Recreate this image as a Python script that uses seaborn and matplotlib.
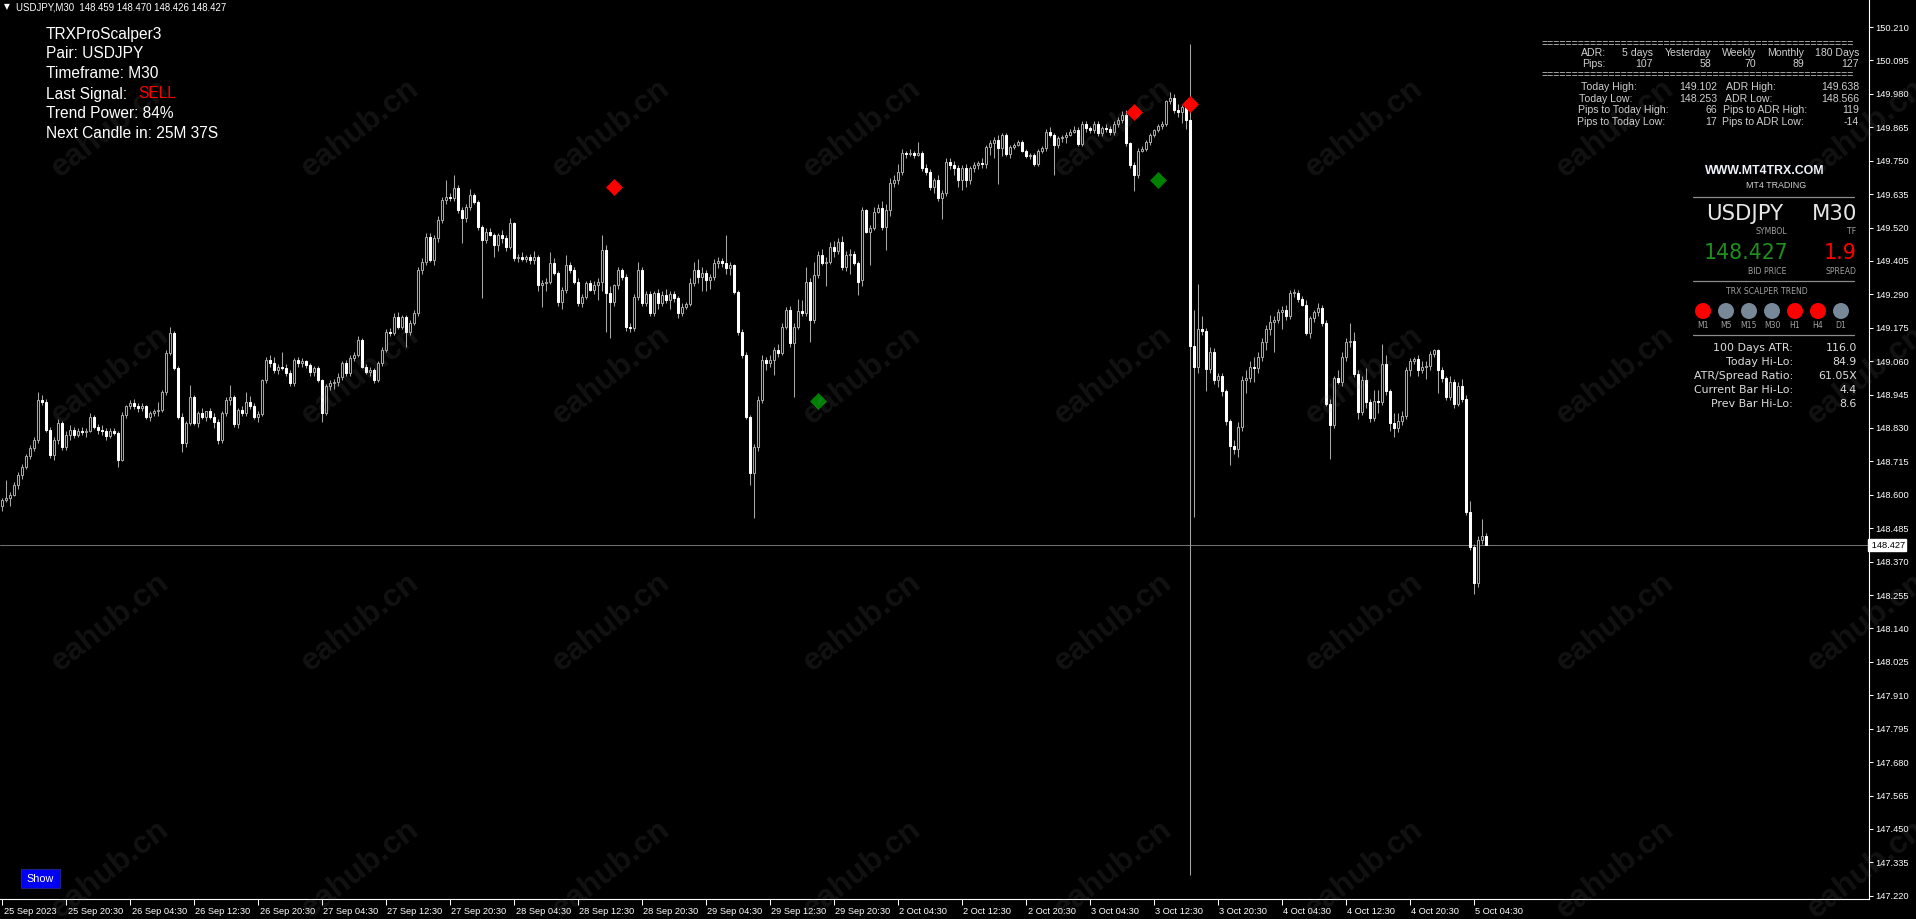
import numpy as np
import pandas as pd
import matplotlib.pyplot as plt
import matplotlib.transforms as mtransforms
from matplotlib.patches import Rectangle, Circle
import seaborn as sns

# ---------------- data (USDJPY M30, 25 Sep 2023 12:30 -> 5 Oct 2023) ----------------
opens = [
    148.560, 148.583, 148.588, 148.600, 148.634, 148.669, 148.697, 148.732, 148.761, 148.789,
    148.927, 148.921, 148.824, 148.737, 148.789, 148.846, 148.766, 148.806, 148.824, 148.806,
    148.821, 148.815, 148.820, 148.869, 148.835, 148.824, 148.818, 148.801, 148.818, 148.814,
    148.720, 148.875, 148.904, 148.915, 148.904, 148.898, 148.904, 148.869, 148.881, 148.887,
    148.892, 148.955, 149.087, 149.158, 149.036, 148.869, 148.778, 148.846, 148.938, 148.846,
    148.881, 148.869, 148.887, 148.869, 148.852, 148.789, 148.881, 148.927, 148.935, 148.844,
    148.892, 148.880, 148.921, 148.904, 148.869, 148.878, 148.996, 149.064, 149.053, 149.030,
    149.041, 149.036, 149.019, 148.984, 149.064, 149.053, 149.059, 149.047, 149.024, 149.036,
    148.996, 148.881, 148.973, 148.984, 148.990, 149.007, 149.053, 149.019, 149.070, 149.082,
    149.133, 149.041, 149.024, 149.030, 148.996, 149.053, 149.099, 149.162, 149.156, 149.213,
    149.179, 149.213, 149.162, 149.191, 149.225, 149.374, 149.403, 149.489, 149.408, 149.483,
    149.546, 149.615, 149.626, 149.621, 149.655, 149.580, 149.552, 149.592, 149.632, 149.609,
    149.523, 149.477, 149.506, 149.495, 149.460, 149.495, 149.483, 149.454, 149.534, 149.414,
    149.420, 149.410, 149.417, 149.408, 149.420, 149.322, 149.328, 149.334, 149.397, 149.362,
    149.265, 149.305, 149.391, 149.374, 149.334, 149.259, 149.282, 149.328, 149.305, 149.322,
    149.334, 149.443, 149.294, 149.265, 149.322, 149.374, 149.351, 149.179, 149.173, 149.282,
    149.374, 149.259, 149.290, 149.225, 149.294, 149.259, 149.288, 149.271, 149.290, 149.276,
    149.225, 149.248, 149.256, 149.328, 149.374, 149.351, 149.365, 149.340, 149.351, 149.397,
    149.405, 149.397, 149.380, 149.391, 149.299, 149.162, 149.081, 148.869, 148.674, 148.766,
    148.927, 149.064, 149.053, 149.064, 149.099, 149.087, 149.179, 149.236, 149.122, 149.179,
    149.231, 149.225, 149.334, 149.202, 149.357, 149.425, 149.397, 149.403, 149.454, 149.440,
    149.471, 149.385, 149.425, 149.429, 149.397, 149.340, 149.580, 149.506, 149.520, 149.575,
    149.586, 149.523, 149.580, 149.672, 149.684, 149.712, 149.775, 149.773, 149.778, 149.770,
    149.775, 149.724, 149.712, 149.661, 149.684, 149.620, 149.638, 149.747, 149.735, 149.724,
    149.684, 149.724, 149.684, 149.724, 149.735, 149.741, 149.738, 149.798, 149.810, 149.820,
    149.792, 149.837, 149.772, 149.798, 149.805, 149.814, 149.785, 149.766, 149.769, 149.740,
    149.785, 149.792, 149.850, 149.840, 149.805, 149.827, 149.831, 149.840, 149.850, 149.857,
    149.809, 149.876, 149.863, 149.855, 149.876, 149.844, 149.863, 149.860, 149.848, 149.876,
    149.889, 149.908, 149.811, 149.734, 149.701, 149.785, 149.790, 149.814, 149.837, 149.857,
    149.869, 149.876, 149.954, 149.967, 149.925, 149.917, 149.934, 149.889, 149.112, 149.041,
    149.170, 149.164, 149.034, 149.093, 148.996, 149.009, 148.957, 148.853, 148.769, 148.756,
    148.834, 148.996, 149.002, 149.041, 149.036, 149.073, 149.125, 149.170, 149.196, 149.203,
    149.229, 149.235, 149.216, 149.293, 149.296, 149.274, 149.255, 149.157, 149.209, 149.229,
    149.244, 149.190, 148.912, 148.840, 149.002, 148.989, 149.073, 149.125, 149.131, 149.015,
    148.886, 148.996, 148.918, 148.866, 148.924, 148.920, 149.050, 148.957, 148.847, 148.830,
    148.853, 148.873, 149.028, 149.060, 149.067, 149.028, 149.041, 149.043, 149.086, 149.099,
    149.028, 149.002, 148.937, 148.989, 148.912, 148.976, 148.931, 148.542, 148.419, 148.297,
    148.445, 148.459,
]
highs = [
    148.590, 148.651, 148.610, 148.645, 148.680, 148.705, 148.740, 148.770, 148.800, 148.953,
    148.945, 148.930, 148.835, 148.800, 148.860, 148.855, 148.820, 148.840, 148.835, 148.830,
    148.835, 148.830, 148.881, 148.875, 148.845, 148.840, 148.830, 148.830, 148.830, 148.820,
    148.885, 148.910, 148.925, 148.930, 148.915, 148.915, 148.910, 148.890, 148.895, 148.921,
    148.960, 149.100, 149.177, 149.165, 149.045, 148.880, 148.855, 148.978, 148.945, 148.890,
    148.900, 148.890, 148.900, 148.880, 148.860, 148.890, 148.935, 148.978, 148.945, 148.900,
    148.905, 148.955, 148.940, 148.915, 148.890, 149.000, 149.075, 149.080, 149.075, 149.050,
    149.091, 149.050, 149.030, 149.070, 149.075, 149.070, 149.065, 149.055, 149.045, 149.045,
    149.000, 148.980, 148.995, 149.000, 149.020, 149.060, 149.065, 149.080, 149.090, 149.145,
    149.140, 149.050, 149.040, 149.035, 149.060, 149.110, 149.170, 149.175, 149.225, 149.230,
    149.220, 149.220, 149.200, 149.235, 149.385, 149.415, 149.500, 149.500, 149.495, 149.560,
    149.625, 149.684, 149.640, 149.701, 149.665, 149.590, 149.600, 149.652, 149.640, 149.615,
    149.530, 149.520, 149.520, 149.500, 149.500, 149.510, 149.495, 149.552, 149.540, 149.430,
    149.435, 149.425, 149.430, 149.440, 149.425, 149.340, 149.345, 149.437, 149.415, 149.370,
    149.315, 149.425, 149.400, 149.385, 149.345, 149.290, 149.335, 149.340, 149.335, 149.345,
    149.494, 149.460, 149.320, 149.325, 149.385, 149.380, 149.360, 149.190, 149.290, 149.400,
    149.385, 149.300, 149.300, 149.300, 149.310, 149.300, 149.310, 149.300, 149.300, 149.285,
    149.260, 149.265, 149.345, 149.400, 149.410, 149.385, 149.375, 149.360, 149.410, 149.420,
    149.415, 149.494, 149.400, 149.395, 149.305, 149.170, 149.090, 148.875, 148.775, 148.940,
    149.080, 149.075, 149.080, 149.110, 149.120, 149.190, 149.245, 149.250, 149.190, 149.275,
    149.270, 149.385, 149.345, 149.400, 149.440, 149.445, 149.420, 149.470, 149.475, 149.485,
    149.490, 149.440, 149.445, 149.440, 149.405, 149.590, 149.585, 149.530, 149.590, 149.600,
    149.610, 149.600, 149.690, 149.700, 149.740, 149.790, 149.785, 149.790, 149.785, 149.813,
    149.785, 149.740, 149.720, 149.690, 149.700, 149.650, 149.760, 149.760, 149.750, 149.735,
    149.735, 149.740, 149.730, 149.745, 149.750, 149.760, 149.805, 149.820, 149.830, 149.840,
    149.845, 149.845, 149.805, 149.810, 149.820, 149.820, 149.790, 149.775, 149.775, 149.790,
    149.800, 149.860, 149.865, 149.845, 149.835, 149.840, 149.850, 149.860, 149.870, 149.865,
    149.885, 149.885, 149.870, 149.885, 149.885, 149.870, 149.875, 149.870, 149.885, 149.900,
    149.920, 149.925, 149.815, 149.745, 149.795, 149.800, 149.820, 149.845, 149.860, 149.875,
    149.885, 149.960, 149.985, 149.980, 149.945, 149.940, 149.960, 150.150, 149.235, 149.326,
    149.216, 149.175, 149.110, 149.105, 149.020, 149.020, 148.965, 148.860, 148.790, 148.850,
    149.010, 149.030, 149.060, 149.075, 149.090, 149.140, 149.185, 149.220, 149.215, 149.240,
    149.250, 149.255, 149.305, 149.310, 149.305, 149.285, 149.270, 149.215, 149.235, 149.260,
    149.255, 149.200, 148.930, 149.010, 149.030, 149.090, 149.140, 149.190, 149.160, 149.030,
    149.010, 149.035, 148.930, 148.960, 148.960, 149.120, 149.080, 148.965, 148.880, 148.880,
    148.890, 149.040, 149.070, 149.075, 149.080, 149.060, 149.060, 149.095, 149.102, 149.102,
    149.040, 149.010, 149.010, 149.000, 148.990, 149.000, 148.945, 148.580, 148.430, 148.460,
    148.517, 148.470,
]
lows = [
    148.543, 148.575, 148.560, 148.595, 148.620, 148.655, 148.690, 148.725, 148.750, 148.780,
    148.910, 148.815, 148.726, 148.720, 148.775, 148.755, 148.755, 148.790, 148.795, 148.800,
    148.805, 148.800, 148.815, 148.825, 148.810, 148.805, 148.790, 148.795, 148.805, 148.697,
    148.715, 148.865, 148.895, 148.895, 148.885, 148.890, 148.860, 148.855, 148.870, 148.870,
    148.885, 148.945, 149.080, 149.030, 148.860, 148.749, 148.765, 148.840, 148.840, 148.835,
    148.860, 148.855, 148.860, 148.830, 148.775, 148.780, 148.870, 148.910, 148.835, 148.830,
    148.870, 148.870, 148.895, 148.860, 148.850, 148.870, 148.985, 149.040, 149.020, 149.015,
    149.030, 149.010, 148.975, 148.975, 149.040, 149.040, 149.035, 149.010, 149.010, 148.990,
    148.852, 148.875, 148.960, 148.965, 148.975, 148.995, 149.010, 149.010, 149.060, 149.075,
    149.035, 149.015, 149.010, 148.984, 148.990, 149.045, 149.090, 149.145, 149.150, 149.170,
    149.170, 149.110, 149.150, 149.185, 149.215, 149.360, 149.390, 149.400, 149.390, 149.470,
    149.535, 149.600, 149.610, 149.610, 149.570, 149.466, 149.540, 149.580, 149.600, 149.510,
    149.277, 149.465, 149.490, 149.420, 149.440, 149.465, 149.440, 149.445, 149.405, 149.400,
    149.405, 149.400, 149.395, 149.395, 149.300, 149.248, 149.300, 149.325, 149.355, 149.250,
    149.240, 149.295, 149.365, 149.325, 149.250, 149.245, 149.275, 149.300, 149.290, 149.270,
    149.300, 149.162, 149.139, 149.250, 149.310, 149.340, 149.165, 149.160, 149.165, 149.270,
    149.250, 149.250, 149.215, 149.215, 149.240, 149.250, 149.260, 149.240, 149.265, 149.210,
    149.215, 149.240, 149.250, 149.320, 149.330, 149.300, 149.300, 149.310, 149.340, 149.380,
    149.385, 149.360, 149.355, 149.290, 149.150, 149.070, 148.860, 148.634, 148.519, 148.750,
    148.915, 149.030, 149.040, 149.012, 149.075, 149.080, 149.170, 149.110, 148.938, 149.170,
    149.215, 149.215, 149.127, 149.190, 149.345, 149.390, 149.320, 149.395, 149.420, 149.430,
    149.375, 149.370, 149.360, 149.390, 149.288, 149.320, 149.500, 149.391, 149.510, 149.570,
    149.510, 149.443, 149.560, 149.660, 149.670, 149.700, 149.760, 149.765, 149.760, 149.765,
    149.715, 149.700, 149.650, 149.640, 149.610, 149.548, 149.630, 149.720, 149.700, 149.660,
    149.650, 149.660, 149.670, 149.710, 149.720, 149.725, 149.725, 149.770, 149.760, 149.669,
    149.765, 149.765, 149.760, 149.790, 149.800, 149.780, 149.760, 149.755, 149.730, 149.730,
    149.775, 149.785, 149.830, 149.701, 149.795, 149.815, 149.810, 149.835, 149.845, 149.800,
    149.800, 149.850, 149.845, 149.845, 149.835, 149.835, 149.850, 149.840, 149.840, 149.865,
    149.880, 149.800, 149.725, 149.646, 149.690, 149.780, 149.785, 149.805, 149.830, 149.850,
    149.860, 149.870, 149.945, 149.915, 149.900, 149.880, 149.860, 147.290, 148.523, 149.020,
    149.150, 148.957, 149.020, 148.980, 148.970, 148.940, 148.840, 148.704, 148.740, 148.730,
    148.820, 148.950, 148.990, 148.990, 149.020, 149.060, 149.100, 149.150, 149.090, 149.190,
    149.170, 149.200, 149.205, 149.280, 149.265, 149.250, 149.150, 149.140, 149.195, 149.215,
    149.180, 148.905, 148.724, 148.830, 148.980, 148.975, 149.060, 149.110, 149.005, 148.860,
    148.875, 148.900, 148.850, 148.855, 148.880, 148.910, 148.945, 148.820, 148.800, 148.815,
    148.840, 148.860, 149.010, 149.050, 149.010, 149.020, 149.000, 149.030, 149.075, 148.950,
    148.990, 148.925, 148.925, 148.900, 148.905, 148.920, 148.530, 148.410, 148.258, 148.284,
    148.430, 148.426,
]
closes = [
    148.583, 148.588, 148.600, 148.634, 148.669, 148.697, 148.732, 148.761, 148.789, 148.927,
    148.921, 148.824, 148.737, 148.789, 148.846, 148.766, 148.806, 148.824, 148.806, 148.821,
    148.815, 148.820, 148.869, 148.835, 148.824, 148.818, 148.801, 148.818, 148.814, 148.720,
    148.875, 148.904, 148.915, 148.904, 148.898, 148.904, 148.869, 148.881, 148.887, 148.892,
    148.955, 149.087, 149.158, 149.036, 148.869, 148.778, 148.846, 148.938, 148.846, 148.881,
    148.869, 148.887, 148.869, 148.852, 148.789, 148.881, 148.927, 148.935, 148.844, 148.892,
    148.880, 148.921, 148.904, 148.869, 148.878, 148.996, 149.064, 149.053, 149.030, 149.041,
    149.036, 149.019, 148.984, 149.064, 149.053, 149.059, 149.047, 149.024, 149.036, 148.996,
    148.881, 148.973, 148.984, 148.990, 149.007, 149.053, 149.019, 149.070, 149.082, 149.133,
    149.041, 149.024, 149.030, 148.996, 149.053, 149.099, 149.162, 149.156, 149.213, 149.179,
    149.213, 149.162, 149.191, 149.225, 149.374, 149.403, 149.489, 149.408, 149.483, 149.546,
    149.615, 149.626, 149.621, 149.655, 149.580, 149.552, 149.592, 149.632, 149.609, 149.523,
    149.477, 149.506, 149.495, 149.460, 149.495, 149.483, 149.454, 149.534, 149.414, 149.420,
    149.410, 149.417, 149.408, 149.420, 149.322, 149.328, 149.334, 149.397, 149.362, 149.265,
    149.305, 149.391, 149.374, 149.334, 149.259, 149.282, 149.328, 149.305, 149.322, 149.334,
    149.443, 149.294, 149.265, 149.322, 149.374, 149.351, 149.179, 149.173, 149.282, 149.374,
    149.259, 149.290, 149.225, 149.294, 149.259, 149.288, 149.271, 149.290, 149.276, 149.225,
    149.248, 149.256, 149.328, 149.374, 149.351, 149.365, 149.340, 149.351, 149.397, 149.405,
    149.397, 149.380, 149.391, 149.299, 149.162, 149.081, 148.869, 148.674, 148.766, 148.927,
    149.064, 149.053, 149.064, 149.099, 149.087, 149.179, 149.236, 149.122, 149.179, 149.231,
    149.225, 149.334, 149.202, 149.357, 149.425, 149.397, 149.403, 149.454, 149.440, 149.471,
    149.385, 149.425, 149.429, 149.397, 149.334, 149.580, 149.506, 149.520, 149.575, 149.586,
    149.523, 149.580, 149.672, 149.684, 149.712, 149.775, 149.773, 149.778, 149.770, 149.775,
    149.724, 149.712, 149.661, 149.684, 149.620, 149.638, 149.747, 149.735, 149.724, 149.684,
    149.724, 149.684, 149.724, 149.735, 149.741, 149.738, 149.798, 149.810, 149.820, 149.792,
    149.837, 149.772, 149.798, 149.805, 149.814, 149.785, 149.766, 149.769, 149.740, 149.785,
    149.792, 149.850, 149.840, 149.805, 149.827, 149.831, 149.840, 149.850, 149.857, 149.809,
    149.876, 149.863, 149.855, 149.876, 149.844, 149.863, 149.860, 149.848, 149.876, 149.889,
    149.908, 149.811, 149.734, 149.701, 149.785, 149.790, 149.814, 149.837, 149.857, 149.869,
    149.876, 149.954, 149.967, 149.925, 149.917, 149.934, 149.889, 149.112, 149.041, 149.170,
    149.164, 149.034, 149.093, 148.996, 149.009, 148.957, 148.853, 148.769, 148.756, 148.834,
    148.996, 149.002, 149.041, 149.036, 149.073, 149.125, 149.170, 149.196, 149.203, 149.229,
    149.235, 149.216, 149.293, 149.296, 149.274, 149.255, 149.157, 149.209, 149.229, 149.244,
    149.190, 148.912, 148.840, 149.002, 148.989, 149.073, 149.125, 149.131, 149.015, 148.886,
    148.996, 148.918, 148.866, 148.924, 148.920, 149.050, 148.957, 148.847, 148.830, 148.853,
    148.873, 149.028, 149.060, 149.067, 149.028, 149.041, 149.043, 149.086, 149.099, 149.028,
    149.002, 148.937, 148.989, 148.912, 148.976, 148.931, 148.542, 148.419, 148.297, 148.445,
    148.459, 148.427,
]

x_labels = ['25 Sep 2023', '25 Sep 20:30', '26 Sep 04:30', '26 Sep 12:30', '26 Sep 20:30',
            '27 Sep 04:30', '27 Sep 12:30', '27 Sep 20:30', '28 Sep 04:30', '28 Sep 12:30',
            '28 Sep 20:30', '29 Sep 04:30', '29 Sep 12:30', '29 Sep 20:30', '2 Oct 04:30',
            '2 Oct 12:30', '2 Oct 20:30', '3 Oct 04:30', '3 Oct 12:30', '3 Oct 20:30',
            '4 Oct 04:30', '4 Oct 12:30', '4 Oct 20:30', '5 Oct 04:30']
y_ticks = [150.210, 150.095, 149.980, 149.865, 149.750, 149.635, 149.520, 149.405, 149.290,
           149.175, 149.060, 148.945, 148.830, 148.715, 148.600, 148.485, 148.370, 148.255,
           148.140, 148.025, 147.910, 147.795, 147.680, 147.565, 147.450, 147.335, 147.220]

sell_bars = [153, 283, 297]
sell_prices = [149.661, 149.917, 149.945]
buy_bars = [204, 289]
buy_prices = [148.924, 149.682]
bid_price = 148.427

info_lines = ['TRXProScalper3', 'Pair: USDJPY', 'Timeframe: M30', 'Last Signal:',
              'Trend Power: 84%', 'Next Candle in: 25M 37S']
last_signal = 'SELL'

adr_heads = ['5 days', 'Yesterday', 'Weekly', 'Monthly', '180 Days']
adr_pips = ['107', '58', '70', '89', '127']
level_rows = [('Today High:', '149.102', 'ADR High:', '149.638'),
              ('Today Low:', '148.253', 'ADR Low:', '148.566'),
              ('Pips to Today High:', '66', 'Pips to ADR High:', '119'),
              ('Pips to Today Low:', '17', 'Pips to ADR Low:', '-14')]
trend_tfs = ['M1', 'M5', 'M15', 'M30', 'H1', 'H4', 'D1']
trend_sell = [True, False, False, False, True, True, False]
stat_labels = ['100 Days ATR:', 'Today Hi-Lo:', 'ATR/Spread Ratio:', 'Current Bar Hi-Lo:',
               'Prev Bar Hi-Lo:']
stat_values = ['116.0', '84.9', '61.05X', '4.4', '8.6']

# ---------------- setup ----------------
W, H = 1916, 919
sns.set_theme(style='dark', rc={'axes.facecolor': 'black', 'figure.facecolor': 'black'})
plt.rcParams['font.family'] = ['Liberation Sans', 'DejaVu Sans']

fig = plt.figure(figsize=(W / 100, H / 100), dpi=100)
ax = fig.add_axes([0, 20 / H, 1869 / W, 899 / H])
ax.set_facecolor('black')

df = pd.DataFrame({'open': opens, 'high': highs, 'low': lows, 'close': closes})
df['bar'] = np.arange(len(df))
up = df['close'] >= df['open']
body_lo = df[['open', 'close']].min(axis=1)
body_h = (df['close'] - df['open']).abs().clip(lower=0.0034)

wick = '#a6a6a6'
ax.vlines(df['bar'], df['low'], df['high'], color=wick, lw=0.75, zorder=2)
ax.bar(df['bar'][up], body_h[up], bottom=body_lo[up], width=0.5, color='black',
       edgecolor=wick, linewidth=0.75, zorder=3)
ax.bar(df['bar'][~up], body_h[~up], bottom=body_lo[~up], width=0.5, color='white',
       edgecolor='white', linewidth=0.75, zorder=3)

ax.axhline(bid_price, color='#707070', lw=0.75, zorder=1)

sns.scatterplot(x=sell_bars, y=sell_prices, ax=ax, marker='D', s=74, color='#ff0000',
                linewidth=0, zorder=6, legend=False)
sns.scatterplot(x=buy_bars, y=buy_prices, ax=ax, marker='D', s=74, color='#008000',
                linewidth=0, zorder=6, legend=False)

# axes styling (MT4 look)
ax.set_xlim(-0.5, 466.75)
ax.set_ylim(147.209, 150.303)
ax.grid(False)
for s in ['top', 'left']:
    ax.spines[s].set_visible(False)
for s in ['right', 'bottom']:
    ax.spines[s].set_color('white')
    ax.spines[s].set_linewidth(0.8)
ax.yaxis.tick_right()
ax.set_yticks(y_ticks)
ax.set_yticklabels([f'{v:.3f}' for v in y_ticks])
ax.tick_params(axis='y', colors='white', length=3, width=0.75, pad=1.5, labelsize=6.7,
               direction='out', right=True, left=False)
ax.set_xticks(np.arange(len(x_labels)) * 16)
ax.set_xticklabels(x_labels, ha='left')
ax.tick_params(axis='x', colors='white', length=4, width=0.75, pad=1.5, labelsize=6.7,
               direction='out', bottom=True)
shift = mtransforms.ScaledTranslation(1.5 / 100, 0, fig.dpi_scale_trans)
for lbl in ax.get_xticklabels():
    lbl.set_transform(lbl.get_transform() + shift)

ax.text(1.0, bid_price, f' {bid_price:.3f}', transform=ax.get_yaxis_transform(),
        ha='left', va='center', fontsize=6.7, color='black', clip_on=False, zorder=8,
        bbox=dict(boxstyle='square,pad=0.12', fc='white', ec='white'))

# ---------------- overlay in pixel coordinates ----------------
ov = fig.add_axes([0, 0, 1, 1])
ov.set_xlim(0, W)
ov.set_ylim(H, 0)
ov.axis('off')
ov.patch.set_alpha(0)

# watermark grid
for wy in [128, 375, 622, 869]:
    for wx in [110, 360, 611, 862, 1113, 1364, 1615, 1866]:
        ov.text(wx, wy, 'eahub.cn', rotation=38, ha='center', va='center', fontsize=23,
                fontweight='bold', color='#8a8a8a', alpha=0.13, zorder=1)

# header
ov.text(4, 7, '\u25BC', fontsize=5.5, color='white', va='center', family='DejaVu Sans')
ov.text(16, 7, f'USDJPY,M30  {opens[-1]:.3f} {highs[-1]:.3f} {lows[-1]:.3f} {closes[-1]:.3f}',
        fontsize=6.9, color='white', va='center')

# indicator info (top-left)
for k, line in enumerate(info_lines):
    ov.text(46, 34 + 20 * k, line, fontsize=11.2, color='white', va='center')
ov.text(138, 94, last_signal, fontsize=11.2, color='#ff0000', va='center')

# ADR table
tc = '#cfcfcf'
fs_t = 7.6
eq = '=' * 51
ov.text(1541, 44, eq, fontsize=fs_t, color=tc, va='center')
ov.text(1541, 75, eq, fontsize=fs_t, color=tc, va='center')
ov.text(1581, 53, 'ADR:', fontsize=fs_t, color=tc, va='center')
ov.text(1582, 64, 'Pips:', fontsize=fs_t, color=tc, va='center')
for xr, hd, pv in zip([1653, 1711, 1756, 1804, 1859], adr_heads, adr_pips):
    ov.text(xr, 53, hd, fontsize=fs_t, color=tc, va='center', ha='right')
    ov.text(xr, 64, pv, fontsize=fs_t, color=tc, va='center', ha='right')
for (l1, v1, l2, v2), yy, xl1, xl2 in zip(level_rows, [87, 99, 110, 122],
                                          [1581, 1579, 1578, 1577], [1726, 1725, 1723, 1722]):
    ov.text(xl1, yy, l1, fontsize=fs_t, color=tc, va='center')
    ov.text(1717, yy, v1, fontsize=fs_t, color=tc, va='center', ha='right')
    ov.text(xl2, yy, l2, fontsize=fs_t, color=tc, va='center')
    ov.text(1859, yy, v2, fontsize=fs_t, color=tc, va='center', ha='right')

# dashboard
dj = 'DejaVu Sans'
small = '#a0a0a0'
ov.text(1765, 171, 'WWW.MT4TRX.COM', fontsize=8.9, fontweight='bold', color='#eef2fa',
        ha='center', va='center')
ov.text(1776, 186, 'MT4 TRADING', fontsize=6.4, color='#d0d0d0', ha='center', va='center')
for yy in [197, 281, 335]:
    ov.plot([1693, 1854], [yy, yy], color='#8c8c8c', lw=0.9)
ov.text(1706, 214, 'USDJPY', fontsize=15.3, color='#e6e6e6', va='center', family=dj)
ov.text(1857, 214, 'M30', fontsize=15.3, color='#e6e6e6', va='center', ha='right', family=dj)
ov.text(1787, 231, 'SYMBOL', fontsize=5.6, color=small, va='center', ha='right', family=dj)
ov.text(1856, 231, 'TF', fontsize=5.6, color=small, va='center', ha='right', family=dj)
ov.text(1788, 253, f'{bid_price:.3f}', fontsize=14.8, color='#1f8f1f', va='center',
        ha='right', family=dj)
ov.text(1857, 253, '1.9', fontsize=14.8, color='#ff0000', va='center', ha='right', family=dj)
ov.text(1787, 271, 'BID PRICE', fontsize=5.6, color=small, va='center', ha='right', family=dj)
ov.text(1857, 271, 'SPREAD', fontsize=5.6, color=small, va='center', ha='right', family=dj)
ov.text(1767, 291, 'TRX SCALPER TREND', fontsize=5.6, color=small, va='center', ha='center',
        family=dj)
for k, (tf, sell) in enumerate(zip(trend_tfs, trend_sell)):
    cx = 1703 + 23 * k
    ov.add_patch(Circle((cx, 311), 8, fc='#ff0000' if sell else '#778899', ec='none'))
    ov.text(cx, 325, tf, fontsize=5.6, color=small, ha='center', va='center', family=dj)
for k, (lb, vl) in enumerate(zip(stat_labels, stat_values)):
    yy = 348 + 14 * k
    ov.text(1793, yy, lb, fontsize=7.9, color='#dcdcdc', ha='right', va='center', family=dj)
    ov.text(1857, yy, vl, fontsize=7.9, color='#dcdcdc', ha='right', va='center', family=dj)

# "Show" button
ov.add_patch(Rectangle((21, 869), 39, 19, fc='#0000f5', ec='#202080', lw=0.8))
ov.text(40.5, 878.5, 'Show', fontsize=7.8, color='white', ha='center', va='center')

plt.savefig('out.png', dpi=100, facecolor='black')
